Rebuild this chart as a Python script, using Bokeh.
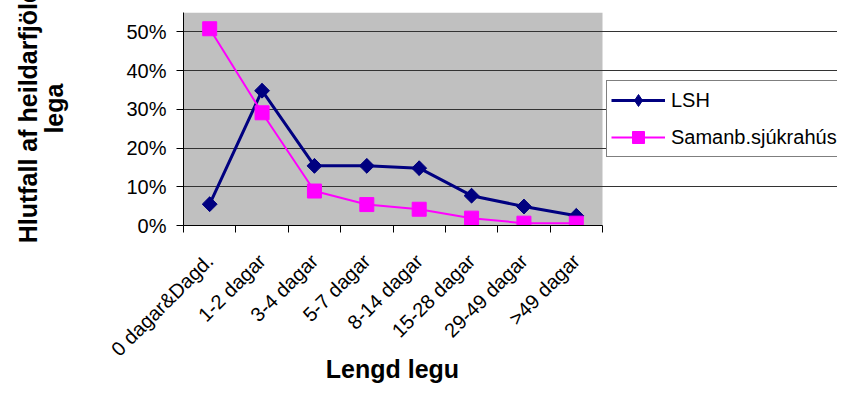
import math
from bokeh.plotting import figure
from bokeh.models import (FixedTicker, NumeralTickFormatter, Range1d, Legend, LegendItem,
                          BoxAnnotation)
from bokeh.embed import file_html
from bokeh.resources import INLINE

categories = ["0 dagar&Dagd.", "1-2 dagar", "3-4 dagar", "5-7 dagar",
              "8-14 dagar", "15-28 dagar", "29-49 dagar", ">49 dagar"]
lsh = [0.055, 0.348, 0.154, 0.154, 0.148, 0.077, 0.049, 0.025]
saman = [0.508, 0.291, 0.089, 0.054, 0.042, 0.019, 0.006, 0.006]
y_ticks = [0, 0.1, 0.2, 0.3, 0.4, 0.5]
y_max = 0.55

FONT = "Liberation Sans"
NB = "\u00a0"
n = len(categories)
x = [i + 0.5 for i in range(n)]

# plot area 419 px wide; frame extended to the right to host the legend
LEFT = 183
WIDTH = 837
PLOT_W = 419
FRAME_W = WIDTH - LEFT
x_end = n * FRAME_W / PLOT_W

p = figure(width=WIDTH, height=386, x_range=Range1d(0, x_end), y_range=Range1d(0, y_max),
           output_backend="svg", toolbar_location=None,
           min_border_left=LEFT, min_border_right=0, min_border_top=12, min_border_bottom=160)
p.background_fill_color = "white"
p.border_fill_color = "white"
p.outline_line_color = None

p.add_layout(BoxAnnotation(left=0, right=n, bottom=0, top=y_max, fill_color="#C0C0C0",
                           fill_alpha=1, line_color=None, level="image"))

# y axis
p.yaxis.ticker = FixedTicker(ticks=y_ticks)
p.yaxis.formatter = NumeralTickFormatter(format="0%")
p.yaxis.axis_line_color = "black"
p.yaxis.major_tick_line_color = "black"
p.yaxis.major_tick_out = 7
p.yaxis.major_tick_in = 0
p.yaxis.minor_tick_line_color = None
p.yaxis.major_label_text_font = FONT
p.yaxis.major_label_text_font_size = "20px"
p.yaxis.major_label_text_color = "black"
p.yaxis.major_label_standoff = 10
p.yaxis.axis_label = NB * 3 + "Hlutfall af heildarfjölda\n" + NB * 3 + "lega"
p.yaxis.axis_label_text_font = FONT
p.yaxis.axis_label_text_font_size = "25px"
p.yaxis.axis_label_text_font_style = "bold"
p.yaxis.axis_label_text_color = "black"
p.yaxis.axis_label_text_line_height = 0.95
p.yaxis.axis_label_standoff = 55

p.ygrid.grid_line_color = "#333333"
p.ygrid.grid_line_width = 1
p.ygrid.bounds = (0, n)
p.xgrid.visible = False

# x axis
p.xaxis.bounds = (0, n)
p.xaxis.ticker = FixedTicker(ticks=x, minor_ticks=list(range(n + 1)))
p.xaxis.major_label_overrides = {xv: c for xv, c in zip(x, categories)}
p.xaxis.major_label_orientation = math.pi / 4
p.xaxis.axis_line_color = "black"
p.xaxis.major_tick_out = 0
p.xaxis.major_tick_in = 0
p.xaxis.minor_tick_out = 7
p.xaxis.minor_tick_in = 0
p.xaxis.minor_tick_line_color = "black"
p.xaxis.major_label_text_font = FONT
p.xaxis.major_label_text_font_size = "20px"
p.xaxis.major_label_text_color = "black"
p.xaxis.major_label_standoff = 25
# pad so that the title centres under the plot area rather than the wider frame
p.xaxis.axis_label = "Lengd legu" + NB * 34
p.xaxis.axis_label_text_font = FONT
p.xaxis.axis_label_text_font_size = "25px"
p.xaxis.axis_label_text_font_style = "bold"
p.xaxis.axis_label_text_color = "black"
p.xaxis.axis_label_standoff = -16

# series
l1 = p.line(x, lsh, line_color="#000080", line_width=3)
m1 = p.scatter(x, lsh, marker="square", size=10.5, angle=math.pi / 4,
               fill_color="#000080", line_color="#000080")
d1 = p.scatter(x, lsh, marker="diamond", size=14, fill_color="#000080", line_color="#000080")
l2 = p.line(x, saman, line_color="#FF00FF", line_width=2)
m2 = p.scatter(x, saman, marker="square", size=14,
               fill_color="#FF00FF", line_color="#FF00FF")

legend = Legend(items=[LegendItem(label="LSH", renderers=[l1, d1]),
                       LegendItem(label="Samanb.sjúkrahús", renderers=[l2, m2])],
                location=(423, 68), orientation="vertical")
legend.label_text_font = FONT
legend.label_text_font_size = "20px"
legend.label_text_color = "black"
legend.glyph_width = 54
legend.glyph_height = 30
legend.label_height = 30
legend.label_standoff = 6
legend.spacing = 7
legend.padding = 4
legend.margin = 0
legend.border_line_color = "black"
legend.border_line_width = 1
legend.background_fill_color = "white"
legend.background_fill_alpha = 1
p.add_layout(legend, "center")

open("out.html", "w").write(file_html(p, INLINE))
